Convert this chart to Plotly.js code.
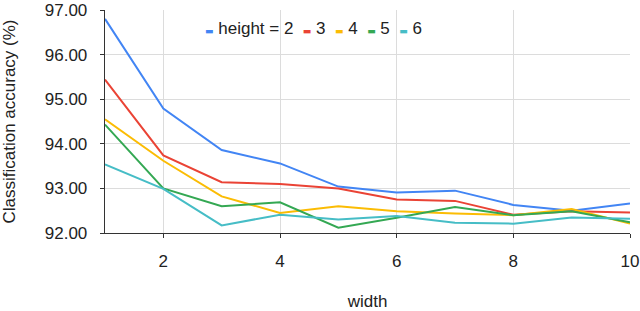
<!DOCTYPE html>
<html>
<head>
<meta charset="utf-8">
<script src="https://cdn.plot.ly/plotly-3.0.1.min.js"></script>
<style>html,body{margin:0;padding:0;background:#fff;}#chart{width:640px;height:311px;}</style>
</head>
<body>
<div id="chart"></div>
<script>
const widths = [1, 2, 3, 4, 5, 6, 7, 8, 9, 10];
const seriesNames = ['height = 2', '3', '4', '5', '6'];
const height2 = [96.80, 94.79, 93.86, 93.56, 93.04, 92.91, 92.95, 92.63, 92.50, 92.66];
const height3 = [95.44, 93.74, 93.14, 93.10, 93.00, 92.75, 92.72, 92.41, 92.49, 92.46];
const height4 = [94.55, 93.62, 92.82, 92.45, 92.60, 92.49, 92.44, 92.40, 92.54, 92.21];
const height5 = [94.43, 93.00, 92.60, 92.69, 92.12, 92.34, 92.58, 92.40, 92.49, 92.24];
const height6 = [93.54, 92.99, 92.17, 92.41, 92.30, 92.38, 92.23, 92.21, 92.35, 92.32];
const yTickVals = [92, 93, 94, 95, 96, 97];
const xTickVals = [2, 4, 6, 8, 10];
const colors = ['#4285F4', '#EA4335', '#FBBC04', '#34A853', '#46BDC6'];

const allSeries = [height2, height3, height4, height5, height6];
const traces = allSeries.map((ys, i) => ({
  x: widths, y: ys, type: 'scatter', mode: 'lines', name: seriesNames[i],
  line: {color: colors[i], width: 2}, showlegend: false
}));

const font = 'Liberation Sans, Arial, sans-serif';
const legendText = seriesNames.map((n, i) =>
  '<span style="color:' + colors[i] + ';font-size:9px;font-family:DejaVu Sans">\u25AC</span>\u00a0' + n
).join('\u00a0\u00a0');

const layout = {
  width: 640, height: 311,
  margin: {l: 105, r: 10, t: 10, b: 78},
  paper_bgcolor: '#fff', plot_bgcolor: '#fff',
  font: {family: font, size: 17, color: '#222'},
  showlegend: false,
  xaxis: {
    range: [1, 10], tickvals: xTickVals, ticktext: xTickVals.map(String),
    showgrid: true, gridcolor: '#dcdcdc', gridwidth: 1,
    showline: true, linecolor: '#333', linewidth: 1.3,
    ticks: 'outside', ticklen: 4, tickcolor: '#333', ticklabelstandoff: 8,
    ticklabeloverflow: 'allow',
    zeroline: false,
    title: {text: 'width', font: {size: 17, family: font, color: '#222'}, standoff: 30}
  },
  yaxis: {
    range: [92, 97], tickvals: yTickVals, ticktext: yTickVals.map(v => v.toFixed(2)),
    showgrid: true, gridcolor: '#dcdcdc', gridwidth: 1,
    showline: true, linecolor: '#333', linewidth: 1.3,
    ticks: 'outside', ticklen: 4, tickcolor: '#333', ticklabelstandoff: 9,
    ticklabeloverflow: 'allow',
    zeroline: false,
    title: {text: 'Classification accuracy (%)\u00a0\u00a0', font: {size: 17, family: font, color: '#222'}, standoff: 26}
  },
  annotations: [{
    xref: 'paper', yref: 'paper', x: 0.186, y: 0.919, xanchor: 'left', yanchor: 'middle',
    text: legendText, showarrow: false, font: {size: 17, family: font, color: '#222'}
  }]
};

Plotly.newPlot('chart', traces, layout, {displayModeBar: false, staticPlot: true});
</script>
</body>
</html>
